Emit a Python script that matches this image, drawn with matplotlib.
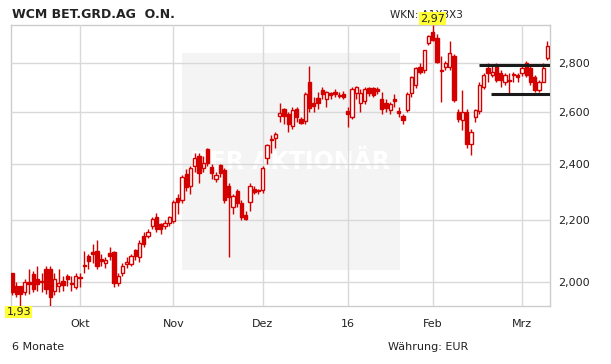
import matplotlib
matplotlib.use("Agg")
import matplotlib.pyplot as plt
from matplotlib.patches import Rectangle
from matplotlib.ticker import FixedLocator, NullLocator
import numpy as np

plt.rcParams['font.family'] = ['DejaVu Sans']

# OHLC daily candles (6 months, trading-day index)
opens = [2.03, 1.99, 1.99, 1.97, 2.00, 2.025, 2.01, 2.005, 2.04, 2.04,
         1.975, 1.988, 2.003, 2.02, 1.998, 1.987, 2.016, 2.055, 2.081, 2.095,
         2.10, 2.074, 2.059, 2.092, 2.095, 1.998, 2.03, 2.057, 2.057, 2.101,
         2.079, 2.149, 2.149, 2.182, 2.21, 2.187, 2.182, 2.192, 2.196, 2.275,
         2.269, 2.364, 2.318, 2.39, 2.428, 2.384, 2.454, 2.388, 2.344, 2.396,
         2.375, 2.32, 2.246, 2.30, 2.26, 2.219, 2.264, 2.308, 2.30, 2.304,
         2.422, 2.494, 2.498, 2.583, 2.61, 2.591, 2.543, 2.61, 2.569, 2.562,
         2.721, 2.634, 2.655, 2.686, 2.651, 2.676, 2.679, 2.669, 2.672, 2.604,
         2.579, 2.676, 2.634, 2.641, 2.697, 2.695, 2.691, 2.649, 2.635, 2.607,
         2.65, 2.601, 2.581, 2.607, 2.677, 2.709, 2.786, 2.772, 2.889, 2.936,
         2.911, 2.772, 2.786, 2.786, 2.833, 2.60, 2.566, 2.597, 2.474, 2.578,
         2.604, 2.702, 2.779, 2.751, 2.786, 2.758, 2.723, 2.73, 2.755, 2.751,
         2.758, 2.80, 2.779, 2.744, 2.688, 2.723, 2.822]
highs = [2.03, 2.00, 1.99, 2.01, 2.04, 2.035, 2.05, 2.03, 2.05, 2.05,
         2.03, 2.04, 2.02, 2.025, 2.02, 2.03, 2.03, 2.10, 2.09, 2.12,
         2.135, 2.09, 2.08, 2.11, 2.10, 2.03, 2.06, 2.08, 2.09, 2.105,
         2.135, 2.16, 2.17, 2.21, 2.225, 2.19, 2.20, 2.215, 2.27, 2.29,
         2.36, 2.38, 2.39, 2.44, 2.44, 2.43, 2.46, 2.40, 2.37, 2.40,
         2.385, 2.33, 2.29, 2.31, 2.27, 2.23, 2.33, 2.32, 2.31, 2.39,
         2.475, 2.51, 2.52, 2.634, 2.615, 2.60, 2.62, 2.62, 2.58, 2.68,
         2.789, 2.66, 2.68, 2.70, 2.685, 2.68, 2.69, 2.68, 2.685, 2.62,
         2.70, 2.705, 2.69, 2.70, 2.70, 2.70, 2.70, 2.68, 2.65, 2.64,
         2.67, 2.62, 2.59, 2.68, 2.745, 2.785, 2.80, 2.86, 2.925, 2.97,
         2.93, 2.83, 2.81, 2.896, 2.84, 2.61, 2.688, 2.61, 2.53, 2.61,
         2.72, 2.76, 2.80, 2.79, 2.80, 2.77, 2.76, 2.76, 2.765, 2.76,
         2.79, 2.81, 2.79, 2.75, 2.73, 2.80, 2.896]
lows = [1.96, 1.955, 1.93, 1.96, 1.965, 1.97, 1.975, 1.97, 1.965, 1.93,
        1.96, 1.97, 1.975, 1.99, 1.975, 1.98, 1.985, 2.03, 2.04, 2.06,
        2.04, 2.05, 2.045, 2.07, 1.985, 1.99, 2.02, 2.045, 2.05, 2.07,
        2.065, 2.11, 2.14, 2.17, 2.16, 2.155, 2.17, 2.18, 2.19, 2.22,
        2.26, 2.30, 2.29, 2.37, 2.33, 2.37, 2.39, 2.345, 2.335, 2.35,
        2.26, 2.08, 2.22, 2.245, 2.20, 2.20, 2.23, 2.29, 2.29, 2.295,
        2.40, 2.44, 2.46, 2.56, 2.55, 2.52, 2.53, 2.56, 2.55, 2.55,
        2.60, 2.60, 2.61, 2.65, 2.62, 2.65, 2.66, 2.655, 2.65, 2.54,
        2.57, 2.65, 2.60, 2.63, 2.665, 2.66, 2.67, 2.59, 2.60, 2.59,
        2.62, 2.58, 2.549, 2.60, 2.66, 2.695, 2.755, 2.76, 2.88, 2.90,
        2.80, 2.639, 2.77, 2.77, 2.64, 2.56, 2.527, 2.46, 2.432, 2.56,
        2.59, 2.69, 2.72, 2.74, 2.72, 2.70, 2.71, 2.674, 2.72, 2.72,
        2.745, 2.74, 2.71, 2.68, 2.68, 2.72, 2.815]
closes = [1.97, 1.965, 1.965, 2.00, 1.995, 1.98, 1.995, 2.00, 1.98, 1.955,
          2.01, 1.998, 1.993, 2.01, 1.994, 2.019, 2.012, 2.051, 2.068, 2.09,
          2.052, 2.068, 2.07, 2.084, 1.997, 2.019, 2.052, 2.063, 2.081, 2.081,
          2.124, 2.122, 2.162, 2.204, 2.171, 2.171, 2.192, 2.21, 2.263, 2.263,
          2.352, 2.316, 2.384, 2.422, 2.366, 2.403, 2.403, 2.366, 2.36, 2.366,
          2.27, 2.28, 2.284, 2.26, 2.212, 2.204, 2.32, 2.296, 2.306, 2.384,
          2.469, 2.489, 2.511, 2.594, 2.581, 2.549, 2.607, 2.579, 2.556, 2.673,
          2.614, 2.621, 2.634, 2.673, 2.679, 2.669, 2.673, 2.662, 2.66, 2.591,
          2.692, 2.70, 2.676, 2.692, 2.676, 2.667, 2.685, 2.611, 2.615, 2.629,
          2.643, 2.596, 2.566, 2.671, 2.741, 2.779, 2.765, 2.856, 2.918, 2.904,
          2.807, 2.766, 2.80, 2.847, 2.646, 2.569, 2.60, 2.474, 2.521, 2.607,
          2.709, 2.751, 2.758, 2.765, 2.73, 2.73, 2.751, 2.724, 2.75, 2.744,
          2.782, 2.751, 2.723, 2.688, 2.723, 2.779, 2.874]

month_pos = [16, 38, 59, 79, 99, 120]
month_labels = ["Okt", "Nov", "Dez", "16", "Feb", "Mrz"]
y_ticks = [2.0, 2.2, 2.4, 2.6, 2.8]
y_labels = ["2,000", "2,200", "2,400", "2,600", "2,800"]
resistance = 2.793
support = 2.670

W, H = 611, 364
fig = plt.figure(figsize=(W / 100, H / 100), dpi=100)
fig.patch.set_facecolor("white")

def fx(px):
    return px / W

def fy(py):
    return 1 - py / H

# header text drawn beneath the axes layer
fig.text(fx(390), fy(15), "WKN: A1X3X3", fontsize=7.5, color="#222222",
         ha="left", va="center", zorder=-1)

ax = fig.add_axes([fx(10.7), fy(305.5), fx(550) - fx(10.7), fy(25) - fy(305.5)])
ax.set_facecolor("white")
ax.set_yscale("log")
ax.set_ylim(1.93, 2.97)
ax.set_xlim(-0.3, 126.6)

# watermark background + text
ax.add_patch(Rectangle((fx(182), fy(270)), fx(400) - fx(182), fy(53) - fy(270),
                       transform=fig.transFigure, facecolor="#f4f4f4",
                       edgecolor="none", zorder=0.2))
ax.text(fx(290), fy(162), "DER AKTIONÄR", transform=fig.transFigure, color="white",
        fontsize=17, fontweight="bold", ha="center", va="center", zorder=0.3)

red = "#d40000"
n = len(opens)
idx = np.arange(n)
bw = 0.8
for i in idx:
    o, h, l, c = opens[i], highs[i], lows[i], closes[i]
    ax.plot([i, i], [l, h], color=red, lw=1.0, zorder=3, solid_capstyle="butt")
    lo, hi = min(o, c), max(o, c)
    if hi - lo < 0.004:
        hi = lo + 0.004
    if c < o:
        ax.add_patch(Rectangle((i - bw / 2, lo), bw, hi - lo, facecolor=red,
                               edgecolor=red, lw=1.0, zorder=4))
    else:
        ax.add_patch(Rectangle((i - bw / 2, lo), bw, hi - lo, facecolor="white",
                               edgecolor=red, lw=1.0, zorder=4))

# support / resistance lines
ax.plot([109.9, 126.6], [resistance, resistance], color="#1a1a1a", lw=2.2, zorder=5,
        solid_capstyle="butt")
ax.plot([112.6, 126.6], [support, support], color="#1a1a1a", lw=2.2, zorder=5,
        solid_capstyle="butt")

ax.yaxis.set_major_locator(FixedLocator(y_ticks))
ax.yaxis.set_minor_locator(NullLocator())
ax.set_yticklabels(y_labels)
ax.yaxis.tick_right()
ax.set_xticks(month_pos)
ax.set_xticklabels(month_labels)
ax.tick_params(axis="both", length=0, labelsize=8, colors="#222222")
ax.tick_params(axis="y", pad=6)
ax.tick_params(axis="x", pad=10)
ax.grid(True, color="#d9d9d9", lw=1.0)
ax.set_axisbelow(False)
for gl in ax.get_xgridlines() + ax.get_ygridlines():
    gl.set_zorder(1)
for s in ax.spines.values():
    s.set_color("#cccccc")
    s.set_linewidth(1.0)

# min / max labels
imax = int(np.argmax(highs))
ax.annotate(f"{max(highs):.2f}".replace(".", ","), xy=(imax, max(highs)),
            xytext=(0, 1), textcoords="offset points", ha="center", va="bottom",
            fontsize=8, color="#222222", zorder=6, annotation_clip=False,
            bbox=dict(boxstyle="square,pad=0.12", fc="#ffff33", ec="none"))
ax.annotate(f"{min(lows):.2f}".replace(".", ","), xy=(-0.3, min(lows)),
            xytext=(-3, -1), textcoords="offset points", ha="left", va="top",
            fontsize=8, color="#222222", zorder=6, annotation_clip=False,
            bbox=dict(boxstyle="square,pad=0.12", fc="#ffff33", ec="none"))

fig.text(fx(12), fy(14), "WCM BET.GRD.AG  O.N.", fontsize=9, fontweight="bold",
         color="#222222", ha="left", va="center")
fig.text(fx(12), fy(347), "6 Monate", fontsize=8, color="#222222", ha="left", va="center")
fig.text(fx(388), fy(347), "Währung: EUR", fontsize=8, color="#222222", ha="left", va="center")

fig.savefig("out.png", dpi=100)
